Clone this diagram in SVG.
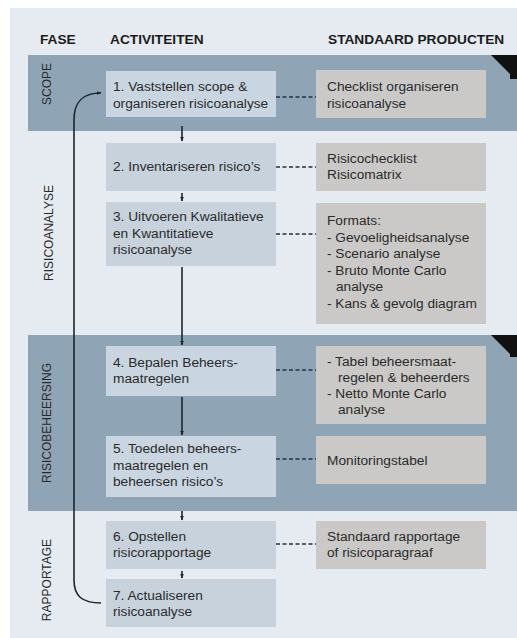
<svg xmlns="http://www.w3.org/2000/svg" width="517" height="638" viewBox="0 0 517 638">
<defs>
<style>
.hdr{font-family:"Liberation Sans",Arial,sans-serif;font-weight:bold;font-size:13.7px;fill:#1c1c1c}
.phase{font-family:"Liberation Sans",Arial,sans-serif;font-size:12px;fill:#2a2a2a;text-anchor:middle}
.t{font-family:"Liberation Sans",Arial,sans-serif;font-size:13.7px;fill:#2b2b2b}
.act{fill:#c9d5e0}
.actL{fill:#c7d2dd}
.prod{fill:#cac9c7}
.band{fill:#8fa4b4}
.dash{stroke:#26323e;stroke-width:1.3;stroke-dasharray:4,2.5;fill:none}
.flow{stroke:#1e2630;stroke-width:1.6;fill:none}
</style>
<marker id="ah" viewBox="0 0 10 10" refX="9" refY="5" markerWidth="5" markerHeight="5" orient="auto" markerUnits="userSpaceOnUse">
<path d="M0,1 L10,5 L0,9 Z" fill="#1e2630"/>
</marker>
</defs>
<rect x="0" y="0" width="517" height="638" fill="#ffffff"/>
<rect x="10" y="8" width="507" height="630" fill="#e5ebf1"/>
<g id="headers">
<text class="hdr" x="40" y="44">FASE</text>
<text class="hdr" x="110" y="44">ACTIVITEITEN</text>
<text class="hdr" x="328" y="44">STANDAARD PRODUCTEN</text>
</g>
<g id="band-scope">
<rect class="band" x="28" y="55" width="489" height="76"/>
<polygon points="491,55 517,55 517,79 510,79 510,74" fill="#111"/>
<text class="phase" transform="translate(51,84) rotate(-90)">SCOPE</text>
</g>
<g id="band-risicoanalyse">
<text class="phase" transform="translate(53,233) rotate(-90)">RISICOANALYSE</text>
</g>
<g id="band-risicobeheersing">
<rect class="band" x="28" y="335" width="489" height="176"/>
<polygon points="491,335 517,335 517,357 510,357 510,354" fill="#111"/>
<text class="phase" transform="translate(51,423) rotate(-90)">RISICOBEHEERSING</text>
</g>
<g id="band-rapportage">
<text class="phase" transform="translate(51,580) rotate(-90)">RAPPORTAGE</text>
</g>
<g id="connectors">
<path class="flow" d="M101,603 C82,603 74,596 74,580 L74,120 C74,100 84,93 101,93" marker-end="url(#ah)"/>
<line class="flow" x1="182" y1="126" x2="182" y2="141" marker-end="url(#ah)"/>
<line class="flow" x1="182" y1="193" x2="182" y2="201" marker-end="url(#ah)"/>
<line class="flow" x1="182" y1="267" x2="182" y2="345" stroke-width="2" marker-end="url(#ah)"/>
<line class="flow" x1="182" y1="397" x2="182" y2="435" stroke-width="2" marker-end="url(#ah)"/>
<line class="flow" x1="182" y1="511" x2="182" y2="520" marker-end="url(#ah)"/>
<line class="flow" x1="182" y1="571" x2="182" y2="578" marker-end="url(#ah)"/>
<line class="dash" x1="276" y1="97" x2="316" y2="97"/>
<line class="dash" x1="276" y1="167" x2="316" y2="167"/>
<line class="dash" x1="276" y1="234" x2="316" y2="234"/>
<line class="dash" x1="276" y1="370" x2="316" y2="370"/>
<line class="dash" x1="276" y1="459" x2="316" y2="459"/>
<line class="dash" x1="276" y1="544" x2="316" y2="544"/>
</g>
<g id="act1">
<rect class="act" x="106" y="71" width="170" height="46"/>
<text class="t" x="113" y="91">1. Vaststellen scope &amp;</text>
<text class="t" x="113" y="107.5">organiseren risicoanalyse</text>
</g>
<g id="act2">
<rect class="actL" x="106" y="143" width="170" height="48"/>
<text class="t" x="113" y="171">2. Inventariseren risico’s</text>
</g>
<g id="act3">
<rect class="actL" x="106" y="202" width="170" height="64"/>
<text class="t" x="113" y="221">3. Uitvoeren Kwalitatieve</text>
<text class="t" x="113" y="237.5">en Kwantitatieve</text>
<text class="t" x="113" y="254">risicoanalyse</text>
</g>
<g id="act4">
<rect class="act" x="106" y="346" width="170" height="50"/>
<text class="t" x="113" y="366.5">4. Bepalen Beheers-</text>
<text class="t" x="113" y="383">maatregelen</text>
</g>
<g id="act5">
<rect class="act" x="106" y="436" width="170" height="61"/>
<text class="t" x="113" y="453">5. Toedelen beheers-</text>
<text class="t" x="113" y="469.5">maatregelen en</text>
<text class="t" x="113" y="486">beheersen risico’s</text>
</g>
<g id="act6">
<rect class="actL" x="106" y="521" width="170" height="48"/>
<text class="t" x="113" y="541">6. Opstellen</text>
<text class="t" x="113" y="557">risicorapportage</text>
</g>
<g id="act7">
<rect class="actL" x="106" y="579" width="170" height="48"/>
<text class="t" x="113" y="599.5">7. Actualiseren</text>
<text class="t" x="113" y="616">risicoanalyse</text>
</g>
<g id="prod1">
<rect class="prod" x="316" y="70" width="170" height="48"/>
<text class="t" x="327" y="91">Checklist organiseren</text>
<text class="t" x="327" y="107.5">risicoanalyse</text>
</g>
<g id="prod2">
<rect class="prod" x="316" y="143" width="170" height="48"/>
<text class="t" x="327" y="162.5">Risicochecklist</text>
<text class="t" x="327" y="178.5">Risicomatrix</text>
</g>
<g id="prod3">
<rect class="prod" x="316" y="203" width="170" height="121"/>
<text class="t" x="327" y="225">Formats:</text>
<text class="t" x="327" y="241.5">- Gevoeligheidsanalyse</text>
<text class="t" x="327" y="258">- Scenario analyse</text>
<text class="t" x="327" y="274.5">- Bruto Monte Carlo</text>
<text class="t" x="336" y="291">analyse</text>
<text class="t" x="327" y="307.5">- Kans &amp; gevolg diagram</text>
</g>
<g id="prod4">
<rect class="prod" x="316" y="346" width="170" height="78"/>
<text class="t" x="327" y="366">- Tabel beheersmaat-</text>
<text class="t" x="338" y="381.5">regelen &amp; beheerders</text>
<text class="t" x="327" y="397.5">- Netto Monte Carlo</text>
<text class="t" x="338" y="413.5">analyse</text>
</g>
<g id="prod5">
<rect class="prod" x="316" y="436" width="170" height="48"/>
<text class="t" x="327" y="464.5">Monitoringstabel</text>
</g>
<g id="prod6">
<rect class="prod" x="316" y="521" width="170" height="48"/>
<text class="t" x="327" y="541">Standaard rapportage</text>
<text class="t" x="327" y="557">of risicoparagraaf</text>
</g>
</svg>
